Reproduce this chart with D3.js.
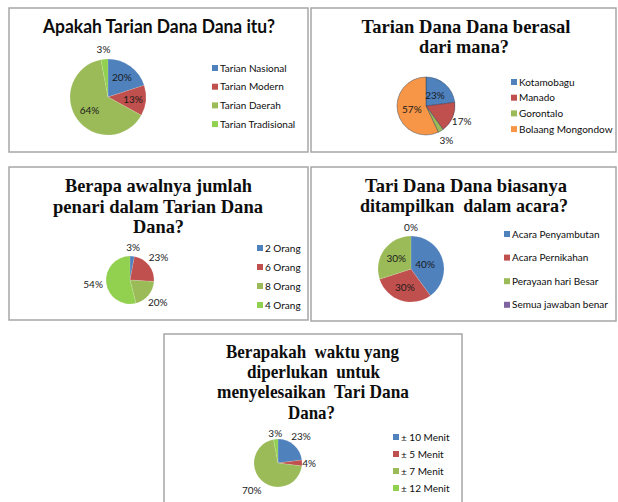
<!DOCTYPE html>
<html>
<head>
<meta charset="utf-8">
<script src="https://cdn.jsdelivr.net/npm/d3@7"></script>
<style>
  body { margin: 0; background: #fff; }
  svg { display: block; }
</style>
</head>
<body>
<div id="grafik"></div>
<script>
// datos de cada pregunta
const q1Kategori = ["Tarian Nasional", "Tarian Modern", "Tarian Daerah", "Tarian Tradisional"];
const q1Persen = [20, 13, 64, 3];

const q2Kategori = ["Kotamobagu", "Manado", "Gorontalo", "Bolaang Mongondow"];
const q2Persen = [23, 17, 3, 57];

const q3Kategori = ["2 Orang", "6 Orang", "8 Orang", "4 Orang"];
const q3Persen = [3, 23, 20, 54];

const q4Kategori = ["Acara Penyambutan", "Acara Pernikahan", "Perayaan hari Besar", "Semua jawaban benar"];
const q4Persen = [40, 30, 30, 0];

const q5Kategori = ["± 10 Menit", "± 5 Menit", "± 7 Menit", "± 12 Menit"];
const q5Persen = [23, 4, 70, 3];

const warnaA = ["#4F81BD", "#C0504D", "#9BBB59", "#92D050"];
const warnaB = ["#4F81BD", "#C0504D", "#9BBB59", "#F79646"];
const warnaC = ["#4F81BD", "#C0504D", "#9BBB59", "#8064A2"];

let svg = d3.select("#grafik").append("svg")
    .attr("width", 618)
    .attr("height", 502);

let charts = [
    {
        box: [9, 8, 299, 144],
        judul: ["Apakah Tarian Dana Dana itu?"], serif: false,
        baris: [[159, 33, 232]],
        kat: q1Kategori, val: q1Persen, warna: warnaA,
        pusat: [108, 97], r: 38, lab: [0.62, 0.66, 0.6, 1.25],
        leg: [212, 68, 18.7]
    },
    {
        box: [311, 8, 305, 144],
        judul: ["Tarian Dana Dana berasal", "dari mana?"], serif: true,
        baris: [[466, 33, 209], [464, 53, 90]],
        kat: q2Kategori, val: q2Persen, warna: warnaB,
        pusat: [426, 106], r: 29, lab: [0.47, 1.34, 1.38, 0.5],
        leg: [511, 82, 15.7], garis: true
    },
    {
        box: [9, 167, 299, 153],
        judul: ["Berapa awalnya jumlah", "penari dalam Tarian Dana", "Dana?"], serif: true,
        baris: [[158.5, 192, 187], [158, 213, 210], [158.5, 233, 51]],
        kat: q3Kategori, val: q3Persen, warna: warnaA,
        pusat: [130, 280], r: 24, lab: [1.35, 1.5, 1.5, 1.55],
        leg: [257, 248, 19]
    },
    {
        box: [311, 167, 305, 154],
        judul: ["Tari Dana Dana biasanya", "ditampilkan  dalam acara?"], serif: true,
        baris: [[466, 192, 202], [464, 212, 208]],
        kat: q4Kategori, val: q4Persen, warna: warnaC,
        pusat: [411, 269], r: 33, lab: [0.45, 0.6, 0.55, 1.27],
        leg: [504, 234, 23.6]
    },
    {
        box: [164, 334, 298, 190],
        judul: ["Berapakah  waktu yang", "diperlukan  untuk", "menyelesaikan  Tari Dana", "Dana?"], serif: true,
        baris: [[312.5, 358, 173], [313.5, 378, 133], [313, 398, 192], [311.5, 419, 47]],
        kat: q5Kategori, val: q5Persen, warna: warnaA,
        pusat: [278, 463], r: 24, lab: [1.45, 1.3, 1.6, 1.22],
        leg: [393, 437, 17]
    }
];

charts.forEach(c => pie(c));

function pie(c) {
    let g = svg.append("g");

    g.append("rect")
        .attr("x", c.box[0]).attr("y", c.box[1])
        .attr("width", c.box[2]).attr("height", c.box[3])
        .attr("fill", "#fff")
        .attr("stroke", "#a6a6a6")
        .attr("stroke-width", 1.5);

    // judul
    g.selectAll(".judul")
        .data(c.judul)
        .enter()
        .append("text")
        .attr("class", "judul")
        .attr("x", (d, i) => c.baris[i][0])
        .attr("y", (d, i) => c.baris[i][1])
        .attr("textLength", (d, i) => c.baris[i][2])
        .attr("lengthAdjust", "spacingAndGlyphs")
        .attr("text-anchor", "middle")
        .attr("font-family", c.serif ? "'Liberation Serif', 'DejaVu Serif', serif" : "Lato, 'Open Sans', sans-serif")
        .attr("font-weight", "bold")
        .attr("font-size", c.serif ? "19px" : "19px")
        .attr("fill", "#0d0d0d")
        .style("white-space", "pre")
        .text(d => d);

    let datos = c.kat.map((k, i) => ({ nama: k, nilai: c.val[i], idx: i }));

    let pieGen = d3.pie()
        .sort(null)
        .value(d => d.nilai);

    let arc = d3.arc()
        .innerRadius(0)
        .outerRadius(c.r);

    let arcs = pieGen(datos);

    let pg = g.append("g")
        .attr("transform", "translate(" + c.pusat[0] + "," + c.pusat[1] + ")");

    pg.selectAll("path")
        .data(arcs.filter(d => d.data.nilai > 0))
        .enter()
        .append("path")
        .attr("d", arc)
        .attr("fill", d => c.warna[d.data.idx])
        .attr("stroke", c.garis ? "rgba(40,60,90,0.55)" : "rgba(255,255,255,0.25)")
        .attr("stroke-width", c.garis ? 0.8 : 0.5);

    // etiquetas de porcentaje
    pg.selectAll("text")
        .data(arcs)
        .enter()
        .append("text")
        .attr("transform", d => {
            let k = c.lab[d.data.idx] * c.r;
            let a = (d.startAngle + d.endAngle) / 2;
            return "translate(" + (Math.sin(a) * k) + "," + (-Math.cos(a) * k) + ")";
        })
        .attr("text-anchor", "middle")
        .attr("dy", "0.35em")
        .attr("font-family", "Lato, 'Open Sans', sans-serif")
        .attr("font-size", "10px")
        .attr("fill", "#1a1a1a")
        .text(d => d.data.nilai + "%");

    // leyenda
    let leg = g.selectAll(".leg")
        .data(datos)
        .enter()
        .append("g")
        .attr("class", "leg")
        .attr("transform", (d, i) => "translate(" + c.leg[0] + "," + (c.leg[1] + i * c.leg[2]) + ")");

    leg.append("rect")
        .attr("x", 0).attr("y", -3)
        .attr("width", 6).attr("height", 6)
        .attr("fill", d => c.warna[d.idx]);

    leg.append("text")
        .attr("x", 8)
        .attr("dy", "0.35em")
        .attr("font-family", "Lato, 'Open Sans', sans-serif")
        .attr("font-size", "10px")
        .attr("fill", "#0d0d0d")
        .text(d => d.nama);
}
</script>
</body>
</html>
